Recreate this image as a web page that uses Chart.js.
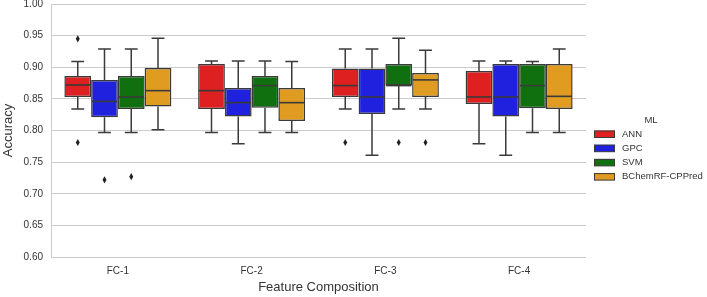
<!DOCTYPE html>
<html>
<head>
<meta charset="utf-8">
<script src="https://cdn.jsdelivr.net/npm/chart.js@4/dist/chart.umd.min.js"></script>
<style>
  html, body { margin: 0; padding: 0; background: #fff; }
</style>
</head>
<body>
<canvas id="chart" width="707" height="297"></canvas>
<script>
const categories = ['FC-1', 'FC-2', 'FC-3', 'FC-4']
const models = ['ANN', 'GPC', 'SVM', 'BChemRF-CPPred']
const colors = ['#df2020', '#2020df', '#107010', '#df9c20']

// per feature composition: [whisker low, q1, median, q3, whisker high]
const annBox = [[0.834, 0.853, 0.872, 0.886, 0.909], [0.797, 0.834, 0.863, 0.905, 0.910], [0.834, 0.853, 0.871, 0.898, 0.929], [0.779, 0.842, 0.853, 0.894, 0.910]]
const gpcBox = [[0.797, 0.821, 0.846, 0.880, 0.929], [0.779, 0.822, 0.844, 0.867, 0.910], [0.761, 0.826, 0.853, 0.898, 0.929], [0.761, 0.822, 0.853, 0.905, 0.910]]
const svmBox = [[0.797, 0.834, 0.853, 0.886, 0.929], [0.797, 0.836, 0.871, 0.886, 0.910], [0.834, 0.871, 0.871, 0.905, 0.946], [0.797, 0.835, 0.871, 0.905, 0.909]]
const bchemBox = [[0.801, 0.838, 0.863, 0.899, 0.946], [0.797, 0.815, 0.844, 0.867, 0.909], [0.834, 0.853, 0.880, 0.891, 0.927], [0.797, 0.834, 0.854, 0.905, 0.929]]

const annOutliers = [[0.945, 0.781], [], [0.781], []]
const gpcOutliers = [[0.722], [], [], []]
const svmOutliers = [[0.727], [], [0.781], []]
const bchemOutliers = [[], [], [0.781], []]

const yTicks = [0.60, 0.65, 0.70, 0.75, 0.80, 0.85, 0.90, 0.95, 1.00]

const boxes = [annBox, gpcBox, svmBox, bchemBox]
const outliers = [annOutliers, gpcOutliers, svmOutliers, bchemOutliers]

const FONT = '"Liberation Sans", Arial, sans-serif'
const EDGE = '#3a3a3a'

const boxParts = {
  id: 'boxParts',
  beforeDatasetsDraw(chart) {
    const { ctx, scales: { y } } = chart
    ctx.save()
    ctx.strokeStyle = EDGE
    ctx.lineWidth = 1.5
    boxes.forEach((b, di) => {
      chart.getDatasetMeta(di).data.forEach((bar, i) => {
        const [lo, q1, , q3, hi] = b[i]
        const cap = bar.width * 0.24
        ctx.beginPath()
        ctx.moveTo(bar.x, y.getPixelForValue(q3))
        ctx.lineTo(bar.x, y.getPixelForValue(hi))
        ctx.moveTo(bar.x - cap, y.getPixelForValue(hi))
        ctx.lineTo(bar.x + cap, y.getPixelForValue(hi))
        ctx.moveTo(bar.x, y.getPixelForValue(q1))
        ctx.lineTo(bar.x, y.getPixelForValue(lo))
        ctx.moveTo(bar.x - cap, y.getPixelForValue(lo))
        ctx.lineTo(bar.x + cap, y.getPixelForValue(lo))
        ctx.stroke()
      })
    })
    ctx.restore()
  },
  afterDatasetsDraw(chart) {
    const { ctx, scales: { y } } = chart
    ctx.save()
    ctx.strokeStyle = EDGE
    ctx.lineWidth = 1.6
    boxes.forEach((b, di) => {
      chart.getDatasetMeta(di).data.forEach((bar, i) => {
        const med = y.getPixelForValue(b[i][2])
        const half = bar.width / 2 - 0.75
        ctx.beginPath()
        ctx.moveTo(bar.x - half, med)
        ctx.lineTo(bar.x + half, med)
        ctx.stroke()
        ctx.fillStyle = '#222'
        outliers[di][i].forEach(v => {
          const py = y.getPixelForValue(v)
          ctx.beginPath()
          ctx.moveTo(bar.x, py - 3.6)
          ctx.lineTo(bar.x + 2, py)
          ctx.lineTo(bar.x, py + 3.6)
          ctx.lineTo(bar.x - 2, py)
          ctx.closePath()
          ctx.fill()
        })
      })
    })
    ctx.restore()
  },
  afterDraw(chart) {
    const { ctx } = chart
    ctx.save()
    ctx.font = '9.5px ' + FONT
    ctx.fillStyle = '#333'
    ctx.textAlign = 'center'
    ctx.textBaseline = 'middle'
    ctx.fillText('ML', 651, 120)
    ctx.textAlign = 'left'
    models.forEach((m, i) => {
      const cy = 134 + i * 14.2
      ctx.fillStyle = colors[i]
      ctx.fillRect(594, cy - 3.5, 21, 7)
      ctx.strokeStyle = EDGE
      ctx.lineWidth = 1
      ctx.strokeRect(594.5, cy - 3, 20, 6.5)
      ctx.fillStyle = '#333'
      ctx.fillText(m, 622, cy)
    })
    ctx.restore()
  }
}

new Chart(document.getElementById('chart'), {
  type: 'bar',
  data: {
    labels: categories,
    datasets: models.map((m, di) => ({
      label: m,
      data: boxes[di].map(s => [s[1], s[3]]),
      backgroundColor: colors[di],
      borderColor: EDGE,
      borderWidth: 1.5,
      borderSkipped: false,
      categoryPercentage: 0.8,
      barPercentage: 1.0,
    }))
  },
  options: {
    responsive: false,
    animation: false,
    layout: { padding: { left: 0, right: 121, top: 4, bottom: 0 } },
    plugins: {
      legend: { display: false },
      tooltip: { enabled: false },
    },
    scales: {
      x: {
        grid: { display: false },
        border: { display: false },
        ticks: { color: '#333', font: { family: FONT, size: 10 }, padding: 0 },
        title: {
          display: true,
          text: 'Feature Composition',
          color: '#333',
          font: { family: FONT, size: 13 },
          padding: { top: 2, bottom: 2 },
        },
        afterFit(scale) {
          scale.height = 40
          scale.paddingLeft = 0
          scale.paddingRight = 0
        },
      },
      y: {
        min: 0.6,
        max: 1.0,
        afterBuildTicks(scale) {
          scale.ticks = yTicks.map(v => ({ value: v }))
        },
        ticks: {
          color: '#333',
          font: { family: FONT, size: 10 },
          padding: 8,
          callback: v => v.toFixed(2),
        },
        grid: { color: '#cccccc', lineWidth: 1, drawTicks: false },
        border: { display: true, color: '#cccccc' },
        title: {
          display: true,
          text: 'Accuracy',
          color: '#333',
          font: { family: FONT, size: 13 },
          padding: { top: 1, bottom: 0 },
        },
        afterFit(scale) {
          scale.width = 51
          scale.paddingTop = 0
          scale.paddingBottom = 0
        },
      },
    },
  },
  plugins: [boxParts],
})
</script>
</body>
</html>
